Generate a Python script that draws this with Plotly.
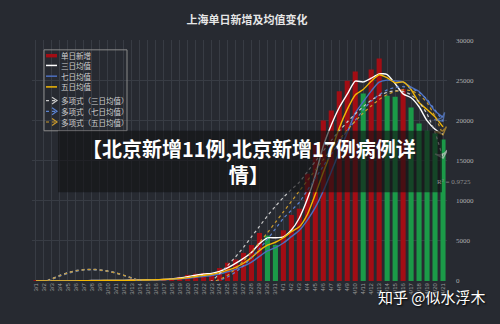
import plotly.graph_objects as go

# ---------------- data ----------------
dates = ["3/1","3/2","3/3","3/4","3/5","3/6","3/7","3/8","3/9","3/10","3/11","3/12","3/13","3/14",
         "3/15","3/16","3/17","3/18","3/19","3/20","3/21","3/22","3/23","3/24","3/25","3/26","3/27",
         "3/28","3/29","3/30","3/31","4/1","4/2","4/3","4/4","4/5","4/6","4/7","4/8","4/9","4/10",
         "4/11","4/12","4/13","4/14","4/15","4/16","4/17","4/18","4/19","4/20","4/21"]

daily = [3, 5, 3, 16, 28, 45, 55, 65, 66, 75, 83, 65, 169, 139, 202, 158, 260, 374, 509, 758,
         896, 981, 983, 1609, 2269, 2678, 3500, 4477, 5982, 5653, 4502, 6311, 8226, 9006, 13354,
         17077, 19982, 21222, 23624, 24944, 26087, 23342, 26330, 27719, 23072, 22950, 23900,
         21600, 19600, 18700, 18400, 17629]

avg3 = [3, 4, 3.7, 8, 15.7, 29.7, 42.7, 55, 62, 68.7, 74.7, 74.3, 105.7, 124.3, 170, 166.3, 206.7,
        264, 381, 547, 721, 878, 953, 1191, 1620, 2185, 2816, 3552, 4653, 5371, 5379, 5489, 6346,
        7848, 10195, 13146, 16804, 19427, 21609, 23263, 24885, 24791, 25253, 25797, 25707, 24580,
        23307, 22817, 21700, 19967, 18900, 18243]

avg5 = [3, 4, 3.7, 6.8, 11, 19.4, 29.4, 41.8, 51.8, 61.2, 68.8, 70.8, 91.6, 106.2, 131.6, 146.6,
        185.6, 226.6, 300.6, 411.8, 559, 704, 825, 1045, 1348, 1704, 2208, 2907, 3781, 4458, 4823,
        5385, 6135, 6740, 8280, 10795, 13529, 16128, 19052, 21370, 23172, 23844, 24865, 25684,
        25310, 24683, 24794, 23848, 22224, 21350, 20440, 19186]

avg7 = [3, 4, 3.7, 6.8, 11, 16.7, 22.1, 31, 39.7, 50, 59.6, 64.9, 82.6, 94.6, 114.1, 127.3, 153.7,
        195.3, 258.7, 342.9, 451, 562, 680, 873, 1144, 1453, 1845, 2357, 3071, 3738, 4152, 4729,
        5522, 6308, 7576, 9161, 11208, 13597, 16070, 18458, 20899, 22325, 23647, 24753, 25017,
        24921, 24771, 24130, 23596, 22506, 21175, 20397]

poly3 = [-400, -100, 300, 700, 1050, 1300, 1430, 1460, 1400, 1250, 1020, 720, 380, 20, -350, -650,
         -850, -950, -950, -850, -650, -350, 0, 900, 1900, 3000, 4200, 5500, 6800, 8100, 9300,
         10400, 11400, 12300, 13600, 14900, 16200, 17500, 18700, 19800, 20800, 21700, 22500,
         23100, 23500, 23700, 23600, 23200, 22300, 20800, 18500, 15300]

poly5 = [-450, -150, 250, 650, 1000, 1250, 1390, 1420, 1360, 1220, 990, 700, 360, 0, -380, -700,
         -900, -1000, -1000, -900, -700, -450, -150, 200, 700, 1500, 2500, 3600, 4800, 6000, 7300,
         8600, 9900, 11200, 12500, 13800, 15100, 16400, 17600, 18800, 19900, 20900, 21800,
         22600, 23200, 23600, 23800, 23700, 23200, 22200, 20500, 18200]

poly7 = [-500, -200, 200, 600, 950, 1200, 1350, 1380, 1330, 1190, 970, 680, 340, -20, -400, -720,
         -930, -1040, -1050, -960, -780, -530, -230, 100, 500, 1100, 1900, 2900, 4000, 5200,
         6500, 7800, 8800, 9800, 11300, 12800, 14300, 15800, 17300, 18700, 20000, 21300, 22400,
         23200, 23800, 24100, 24200, 24000, 23500, 22600, 21300, 19900]

y_ticks = [0, 5000, 10000, 15000, 20000, 25000, 30000]

series_names = ["单日新增", "三日均值", "七日均值", "五日均值",
                "多项式（三日均值）", "多项式（七日均值）", "多项式（五日均值）"]

# ---------------- figure ----------------
RED = "#a30d14"
GREEN = "#1b9a48"
WHITE = "#ffffff"
BLUE = "#4d6fbf"
YELLOW = "#f2b705"
PWHITE = "#c9c9c9"
PBLUE = "#5b82cf"
PYELLOW = "#c99a2e"

bar_colors = [RED] + [GREEN if daily[i] < daily[i - 1] and daily[i] > 1000 else RED
                      for i in range(1, len(daily))]

fig = go.Figure()
fig.add_trace(go.Bar(x=dates, y=daily, name=series_names[0],
                     marker=dict(color=bar_colors, line_width=0)))

def line(y, name, color, dash="solid", width=1.4, arrow=False):
    if arrow:
        n = len(y)
        kw = dict(mode="lines+markers",
                  marker=dict(symbol="arrow-wide-open", size=[0] * (n - 1) + [9],
                              angleref="previous", color=color, line=dict(color=color, width=1.4)))
    else:
        kw = dict(mode="lines")
    fig.add_trace(go.Scatter(x=dates, y=y, name=name,
                             line=dict(color=color, width=width, dash=dash,
                                       shape="spline", smoothing=0.6), **kw))

line(avg3, series_names[1], WHITE)
line(avg7, series_names[2], BLUE)
line(avg5, series_names[3], YELLOW)
line(poly3, series_names[4], PWHITE, dash="dot", width=1.2, arrow=True)
line(poly7, series_names[5], PBLUE, dash="dot", width=1.2, arrow=True)
line(poly5, series_names[6], PYELLOW, dash="dot", width=1.2, arrow=True)

W, H = 500, 324
x0, x1 = 32 / W, 447 / W
yb, yt = (H - 284) / H, (H - 37) / H

def px(x):
    return x / W

def py(y):
    return 1 - y / H

fig.update_layout(
    width=W, height=H,
    margin=dict(l=0, r=0, t=0, b=0),
    paper_bgcolor="#272a31",
    plot_bgcolor="rgba(0,0,0,0)",
    bargap=0.36,
    showlegend=False,
    font=dict(family="Noto Sans CJK SC", color="#cccccc"),
    title=dict(text="<b>上海单日新增及均值变化</b>", x=px(247), xanchor="center",
               y=py(20), yanchor="middle",
               font=dict(size=11, color="#e6e6e6", family="Noto Sans CJK SC")),
    xaxis=dict(domain=[x0, x1], type="category", range=[-0.5, len(dates) - 0.5],
               tickangle=-90, tickfont=dict(size=6, color="#9a9a9a", family="Liberation Sans"),
               showgrid=True, gridcolor="#383c44", gridwidth=1, ticks="", showline=False,
               zeroline=False, fixedrange=True),
    yaxis=dict(domain=[yb, yt], range=[0, 30000], side="right", tickvals=y_ticks,
               tickformat="d",
               tickfont=dict(size=7, color="#b0b0b0", family="Liberation Serif"),
               showgrid=True, gridcolor="#383c44", gridwidth=1, zeroline=False,
               ticks="", ticklabelstandoff=8, fixedrange=True),
)

# ---------- hand-drawn compact legend ----------
fig.add_shape(type="rect", xref="paper", yref="paper", x0=px(44), x1=px(127),
              y0=py(130), y1=py(47), line=dict(color="#8a8a8a", width=1),
              fillcolor="rgba(0,0,0,0)")
leg_rows = [53, 63, 74, 85, 99, 110, 121]
leg_styles = [(RED, "solid", 3.5, False), (WHITE, "solid", 1.5, False), (BLUE, "solid", 1.5, False),
              (YELLOW, "solid", 1.5, False), (PWHITE, "dot", 1.2, True), (PBLUE, "dot", 1.2, True),
              (PYELLOW, "dot", 1.2, True)]
for yrow, name, (col, dash, wd, arr) in zip(leg_rows, series_names, leg_styles):
    fig.add_shape(type="line", xref="paper", yref="paper", x0=px(46), x1=px(57),
                  y0=py(yrow), y1=py(yrow), line=dict(color=col, width=wd, dash=dash))
    if arr:
        path = f"M {px(52)} {py(yrow - 3.5)} L {px(57)} {py(yrow)} L {px(52)} {py(yrow + 3.5)}"
        fig.add_shape(type="path", xref="paper", yref="paper", path=path,
                      line=dict(color=col, width=1.2))
    fig.add_annotation(text=name, xref="paper", yref="paper", x=px(59), y=py(yrow),
                       showarrow=False, xanchor="left", yanchor="middle",
                       font=dict(size=7.5, color="#cfcfcf", family="Noto Sans CJK SC"))

# ---------- overlay band with headline ----------
fig.add_shape(type="rect", xref="paper", yref="paper", x0=px(58), x1=px(442),
              y0=py(193), y1=py(130), fillcolor="rgba(18,18,20,0.62)",
              line_width=0, layer="above")
fig.add_annotation(text="<b>【北京新增11例,北京新增17例病例详<br>情】</b>",
                   xref="paper", yref="paper", x=px(249), y=py(161.5), showarrow=False,
                   xanchor="center", yanchor="middle", align="center",
                   font=dict(size=20, color="#ffffff", family="Noto Sans CJK SC"))
fig.add_annotation(text="R² = 0.9725", xref="paper", yref="paper", x=px(435), y=py(183),
                   showarrow=False, xanchor="left", yanchor="middle",
                   font=dict(size=7, color="#8f8f8f", family="Liberation Serif"))
fig.add_annotation(text="知乎 @似水浮木", xref="paper", yref="paper", x=px(488), y=py(300),
                   showarrow=False, xanchor="right", yanchor="middle",
                   font=dict(size=15, color="#ffffff", family="Noto Sans CJK SC",
                             shadow="1px 1px 2px #000000"))

fig.write_html("out.html")
